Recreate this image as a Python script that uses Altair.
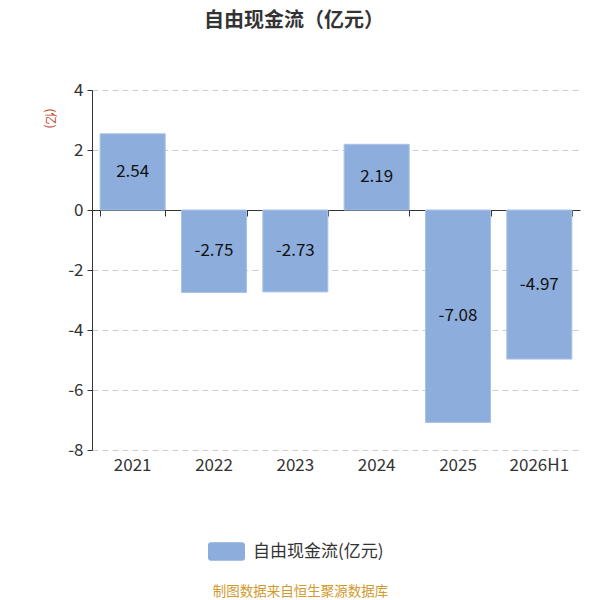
import altair as alt
import pandas as pd

years = ["2021", "2022", "2023", "2024", "2025", "2026H1"]
values = [2.54, -2.75, -2.73, 2.19, -7.08, -4.97]
labels = ["2.54", "-2.75", "-2.73", "2.19", "-7.08", "-4.97"]
y_ticks = [-8, -6, -4, -2, 0, 2, 4]
series = "自由现金流(亿元)"

df = pd.DataFrame({"year": years, "value": values, "label": labels, "series": [series] * len(years)})

FONT = "Noto Sans CJK SC"
W, H = 488, 360

xscale = alt.Scale(domain=years, paddingInner=0.2, paddingOuter=0.1)
yscale = alt.Scale(domain=[-8, 4], nice=False)

legend_path = ("M-0.85,-0.5 H0.85 A0.15,0.15 0 0 1 1,-0.35 V0.35 A0.15,0.15 0 0 1 0.85,0.5 "
               "H-0.85 A0.15,0.15 0 0 1 -1,0.35 V-0.35 A0.15,0.15 0 0 1 -0.85,-0.5 Z")

bars = alt.Chart(df).mark_bar(color="#8DAEDC", stroke="#A9C3E6", strokeWidth=1).encode(
    x=alt.X("year:N", scale=xscale, sort=years,
            axis=alt.Axis(orient="bottom", title="制图数据来自恒生聚源数据库", titleColor="#D09A2C",
                          titleFont=FONT, titleFontSize=13.5, titleFontWeight="normal",
                          titlePadding=111, titleX=208, titleAlign="center",
                          labelAngle=0, labelFont=FONT, labelFontSize=17, labelColor="#333333",
                          labelPadding=7, domain=False, ticks=False, grid=False)),
    y=alt.Y("value:Q", scale=yscale,
            axis=alt.Axis(values=y_ticks, labelExpr="'' + datum.value",
                          title="(亿)", titleAngle=90,
                          titleColor="#C8401E", titleFont=FONT, titleFontSize=12,
                          titleFontWeight="normal", titleX=-50, titleY=28, titleAlign="center",
                          labelFont=FONT, labelFontSize=17, labelColor="#333333", labelPadding=4,
                          domainColor="#333333", tickColor="#333333", tickSize=5,
                          grid=True, gridColor="#CCCCCC", gridDash=[6, 4])),
    fill=alt.Fill("series:N", scale=alt.Scale(domain=[series], range=["#8DAEDC"]),
                  legend=alt.Legend(title=None, orient="none", legendX=116, legendY=443,
                                    symbolType=legend_path, symbolSize=1369, symbolStrokeWidth=0,
                                    labelFont=FONT, labelFontSize=17, labelColor="#333333",
                                    labelOffset=8)),
)

text = alt.Chart(df).transform_calculate(mid="datum.value / 2").mark_text(
    font=FONT, fontSize=17, color="#111111", baseline="middle"
).encode(
    x=alt.X("year:N", scale=xscale, sort=years,
            axis=alt.Axis(orient="bottom", title=None, labels=False, offset=-240, tickBand="extent",
                          domainColor="#333333", tickColor="#333333", tickSize=6,
                          domainWidth=1.2, grid=False)),
    y=alt.Y("mid:Q", scale=yscale),
    text="label:N",
)

chart = alt.layer(bars, text).resolve_axis(x="independent").properties(
    width=W, height=H,
    autosize=alt.AutoSizeParams(type="none"),
    padding={"left": 84, "top": 82, "right": 6, "bottom": 150},
    title=alt.TitleParams("自由现金流（亿元）", font=FONT, fontSize=20, fontWeight="bold",
                          color="#333333", anchor="middle", dx=-42, offset=50),
).configure(background="white").configure_view(stroke=None)

chart.save("out.html", embed_options={"renderer": "svg", "actions": False})
